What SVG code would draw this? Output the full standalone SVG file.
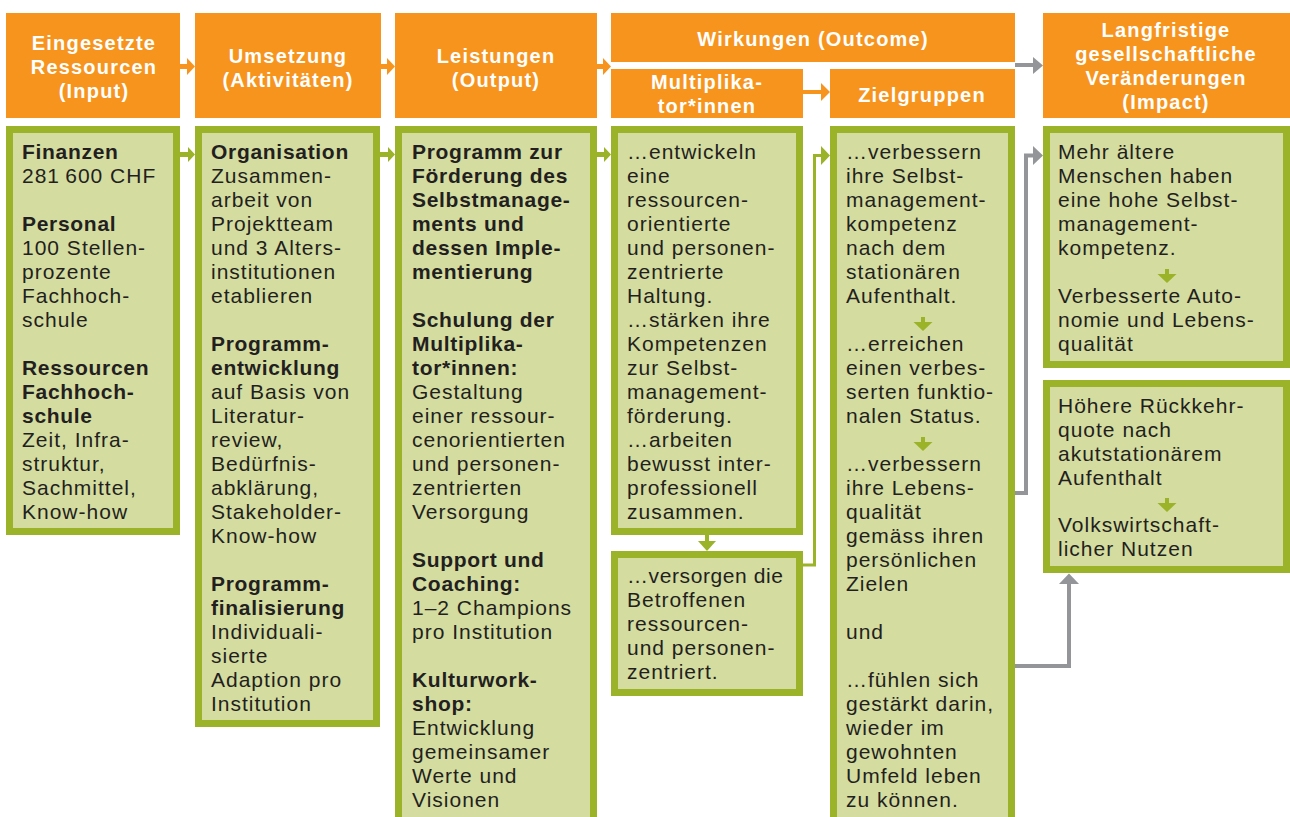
<svg xmlns="http://www.w3.org/2000/svg" width="1290" height="817" viewBox="0 0 1290 817">
<style>
.hdr{fill:#F7941E}
.hdrt{font-family:"Liberation Sans",Arial,sans-serif;font-size:20px;font-weight:bold;fill:#ffffff;letter-spacing:1.2px;text-anchor:middle}
.box{fill:#D4DCA0;stroke:#9BB328;stroke-width:7}
.t{font-family:"Liberation Sans",Arial,sans-serif;font-size:21px;fill:#231F20;letter-spacing:1px}
.b{font-weight:bold;letter-spacing:0.7px}
.og{fill:#F7941E}
.gr{fill:#9BB328}
.gy{fill:#939598}
.gl{fill:none;stroke:#9BB328;stroke-width:3}
.yl{fill:none;stroke:#939598;stroke-width:4}
</style>
<rect width="1290" height="817" fill="#ffffff"/>

<!-- Headers -->
<g id="h-input"><rect class="hdr" x="6" y="13" width="174" height="105"/>
<text class="hdrt"><tspan x="94" y="50">Eingesetzte</tspan><tspan x="94" y="74">Ressourcen</tspan><tspan x="94" y="98">(Input)</tspan></text></g>
<g id="h-umsetzung"><rect class="hdr" x="195" y="13" width="186" height="105"/>
<text class="hdrt"><tspan x="288" y="63">Umsetzung</tspan><tspan x="288" y="87">(Aktivitäten)</tspan></text></g>
<g id="h-output"><rect class="hdr" x="395" y="13" width="202" height="105"/>
<text class="hdrt"><tspan x="496" y="63">Leistungen</tspan><tspan x="496" y="87">(Output)</tspan></text></g>
<g id="h-outcome"><rect class="hdr" x="611" y="13" width="404" height="49"/>
<text class="hdrt"><tspan x="813" y="46">Wirkungen (Outcome)</tspan></text></g>
<g id="h-multi"><rect class="hdr" x="611" y="69" width="192" height="49"/>
<text class="hdrt"><tspan x="707" y="89">Multiplika-</tspan><tspan x="707" y="113">tor*innen</tspan></text></g>
<g id="h-ziel"><rect class="hdr" x="830" y="69" width="185" height="49"/>
<text class="hdrt"><tspan x="922" y="102">Zielgruppen</tspan></text></g>
<g id="h-impact"><rect class="hdr" x="1043" y="13" width="247" height="105"/>
<text class="hdrt"><tspan x="1166" y="37">Langfristige</tspan><tspan x="1166" y="61">gesellschaftliche</tspan><tspan x="1166" y="85">Veränderungen</tspan><tspan x="1166" y="109">(Impact)</tspan></text></g>

<!-- Content boxes -->
<g id="n-input"><rect class="box" x="9.5" y="129.5" width="167" height="402"/>
<text class="t"><tspan class="b" x="22" y="159">Finanzen</tspan><tspan x="22" y="183">281&#8201;600 CHF</tspan><tspan class="b" x="22" y="231">Personal</tspan><tspan x="22" y="255">100 Stellen-</tspan><tspan x="22" y="279">prozente</tspan><tspan x="22" y="303">Fachhoch-</tspan><tspan x="22" y="327">schule</tspan><tspan class="b" x="22" y="375">Ressourcen</tspan><tspan class="b" x="22" y="399">Fachhoch-</tspan><tspan class="b" x="22" y="423">schule</tspan><tspan x="22" y="447">Zeit, Infra-</tspan><tspan x="22" y="471">struktur,</tspan><tspan x="22" y="495">Sachmittel,</tspan><tspan x="22" y="519">Know-how</tspan></text></g>

<g id="n-umsetzung"><rect class="box" x="198.5" y="129.5" width="178" height="594"/>
<text class="t"><tspan class="b" x="211" y="159">Organisation</tspan><tspan x="211" y="183">Zusammen-</tspan><tspan x="211" y="207">arbeit von</tspan><tspan x="211" y="231">Projektteam</tspan><tspan x="211" y="255">und 3 Alters-</tspan><tspan x="211" y="279">institutionen</tspan><tspan x="211" y="303">etablieren</tspan><tspan class="b" x="211" y="351">Programm-</tspan><tspan class="b" x="211" y="375">entwicklung</tspan><tspan x="211" y="399">auf Basis von</tspan><tspan x="211" y="423">Literatur-</tspan><tspan x="211" y="447">review,</tspan><tspan x="211" y="471">Bedürfnis-</tspan><tspan x="211" y="495">abklärung,</tspan><tspan x="211" y="519">Stakeholder-</tspan><tspan x="211" y="543">Know-how</tspan><tspan class="b" x="211" y="591">Programm-</tspan><tspan class="b" x="211" y="615">finalisierung</tspan><tspan x="211" y="639">Individuali-</tspan><tspan x="211" y="663">sierte</tspan><tspan x="211" y="687">Adaption pro</tspan><tspan x="211" y="711">Institution</tspan></text></g>

<g id="n-output"><rect class="box" x="398.5" y="129.5" width="195" height="700"/>
<text class="t"><tspan class="b" x="412" y="159">Programm zur</tspan><tspan class="b" x="412" y="183">Förderung des</tspan><tspan class="b" x="412" y="207">Selbstmanage-</tspan><tspan class="b" x="412" y="231">ments und</tspan><tspan class="b" x="412" y="255">dessen Imple-</tspan><tspan class="b" x="412" y="279">mentierung</tspan><tspan class="b" x="412" y="327">Schulung der</tspan><tspan class="b" x="412" y="351">Multiplika-</tspan><tspan class="b" x="412" y="375">tor*innen:</tspan><tspan x="412" y="399">Gestaltung</tspan><tspan x="412" y="423">einer ressour-</tspan><tspan x="412" y="447">cenorientierten</tspan><tspan x="412" y="471">und personen-</tspan><tspan x="412" y="495">zentrierten</tspan><tspan x="412" y="519">Versorgung</tspan><tspan class="b" x="412" y="567">Support und</tspan><tspan class="b" x="412" y="591">Coaching:</tspan><tspan x="412" y="615">1–2 Champions</tspan><tspan x="412" y="639">pro Institution</tspan><tspan class="b" x="412" y="687">Kulturwork-</tspan><tspan class="b" x="412" y="711">shop:</tspan><tspan x="412" y="735">Entwicklung</tspan><tspan x="412" y="759">gemeinsamer</tspan><tspan x="412" y="783">Werte und</tspan><tspan x="412" y="807">Visionen</tspan></text></g>

<g id="n-multi"><rect class="box" x="614.5" y="129.5" width="185" height="402"/>
<text class="t"><tspan x="627" y="159">…entwickeln</tspan><tspan x="627" y="183">eine</tspan><tspan x="627" y="207">ressourcen-</tspan><tspan x="627" y="231">orientierte</tspan><tspan x="627" y="255">und personen-</tspan><tspan x="627" y="279">zentrierte</tspan><tspan x="627" y="303">Haltung.</tspan><tspan x="627" y="327">…stärken ihre</tspan><tspan x="627" y="351">Kompetenzen</tspan><tspan x="627" y="375">zur Selbst-</tspan><tspan x="627" y="399">management-</tspan><tspan x="627" y="423">förderung.</tspan><tspan x="627" y="447">…arbeiten</tspan><tspan x="627" y="471">bewusst inter-</tspan><tspan x="627" y="495">professionell</tspan><tspan x="627" y="519">zusammen.</tspan></text></g>

<g id="n-versorgen"><rect class="box" x="614.5" y="554.5" width="185" height="138"/>
<text class="t"><tspan x="627" y="583" letter-spacing="0.6">…versorgen die</tspan><tspan x="627" y="607">Betroffenen</tspan><tspan x="627" y="631">ressourcen-</tspan><tspan x="627" y="655">und personen-</tspan><tspan x="627" y="679">zentriert.</tspan></text></g>

<g id="n-ziel"><rect class="box" x="833.5" y="129.5" width="178" height="700"/>
<text class="t"><tspan x="846" y="159">…verbessern</tspan><tspan x="846" y="183">ihre Selbst-</tspan><tspan x="846" y="207">management-</tspan><tspan x="846" y="231">kompetenz</tspan><tspan x="846" y="255">nach dem</tspan><tspan x="846" y="279">stationären</tspan><tspan x="846" y="303">Aufenthalt.</tspan><tspan x="846" y="351">…erreichen</tspan><tspan x="846" y="375">einen verbes-</tspan><tspan x="846" y="399">serten funktio-</tspan><tspan x="846" y="423">nalen Status.</tspan><tspan x="846" y="471">…verbessern</tspan><tspan x="846" y="495">ihre Lebens-</tspan><tspan x="846" y="519">qualität</tspan><tspan x="846" y="543">gemäss ihren</tspan><tspan x="846" y="567">persönlichen</tspan><tspan x="846" y="591">Zielen</tspan><tspan x="846" y="639">und</tspan><tspan x="846" y="687">…fühlen sich</tspan><tspan x="846" y="711">gestärkt darin,</tspan><tspan x="846" y="735">wieder im</tspan><tspan x="846" y="759">gewohnten</tspan><tspan x="846" y="783">Umfeld leben</tspan><tspan x="846" y="807">zu können.</tspan></text>
<rect class="gr" x="921" y="317" width="4" height="6"/><polygon class="gr" points="913.5,322 932.5,322 923,331"/>
<rect class="gr" x="921" y="437" width="4" height="6"/><polygon class="gr" points="913.5,442 932.5,442 923,451"/></g>

<g id="n-impact1"><rect class="box" x="1046.5" y="129.5" width="240" height="235"/>
<text class="t"><tspan x="1058" y="159">Mehr ältere</tspan><tspan x="1058" y="183">Menschen haben</tspan><tspan x="1058" y="207">eine hohe Selbst-</tspan><tspan x="1058" y="231">management-</tspan><tspan x="1058" y="255">kompetenz.</tspan><tspan x="1058" y="303">Verbesserte Auto-</tspan><tspan x="1058" y="327">nomie und Lebens-</tspan><tspan x="1058" y="351">qualität</tspan></text>
<rect class="gr" x="1165" y="269" width="4" height="6"/><polygon class="gr" points="1157.5,274 1176.5,274 1167,283"/></g>

<g id="n-impact2"><rect class="box" x="1046.5" y="383.5" width="240" height="186"/>
<text class="t"><tspan x="1058" y="413">Höhere Rückkehr-</tspan><tspan x="1058" y="437">quote nach</tspan><tspan x="1058" y="461">akutstationärem</tspan><tspan x="1058" y="485">Aufenthalt</tspan><tspan x="1058" y="532">Volkswirtschaft-</tspan><tspan x="1058" y="556">licher Nutzen</tspan></text>
<rect class="gr" x="1165" y="498" width="4" height="6"/><polygon class="gr" points="1157.5,503 1176.5,503 1167,512"/></g>

<!-- Connectors -->
<g id="connectors">
<rect class="og" x="180" y="64" width="8" height="5"/><polygon class="og" points="187,58 195,66.5 187,75"/>
<rect class="og" x="381" y="64" width="7" height="5"/><polygon class="og" points="387,58 395,66.5 387,75"/>
<rect class="og" x="597" y="64" width="7" height="5"/><polygon class="og" points="603,58 611,66.5 603,75"/>
<rect class="og" x="803" y="90" width="19" height="4"/><polygon class="og" points="821,83 830,92 821,101"/>
<rect class="gy" x="1015" y="63" width="19" height="4"/><polygon class="gy" points="1033,57 1043,65.5 1033,74"/>

<rect class="gr" x="180" y="152" width="9" height="5"/><polygon class="gr" points="188,147 195,154.5 188,162"/>
<rect class="gr" x="380" y="152" width="9" height="5"/><polygon class="gr" points="388,147 395,154.5 388,162"/>
<rect class="gr" x="597" y="152" width="8" height="5"/><polygon class="gr" points="604,147 611,154.5 604,162"/>
<rect class="gr" x="705" y="534" width="4" height="8"/><polygon class="gr" points="698,541 716,541 707,551"/>
<polyline class="gl" points="803,565 814.5,565 814.5,155.5 822,155.5"/><polygon class="gr" points="821,146 830,155.5 821,165"/>
<polyline class="yl" points="1015,493 1026,493 1026,155.5 1034,155.5"/><polygon class="gy" points="1033,146 1043,155.5 1033,165"/>
<polyline class="yl" points="1015,666 1069,666 1069,583"/><polygon class="gy" points="1059,584 1069,573.5 1079,584"/>
</g>
</svg>
